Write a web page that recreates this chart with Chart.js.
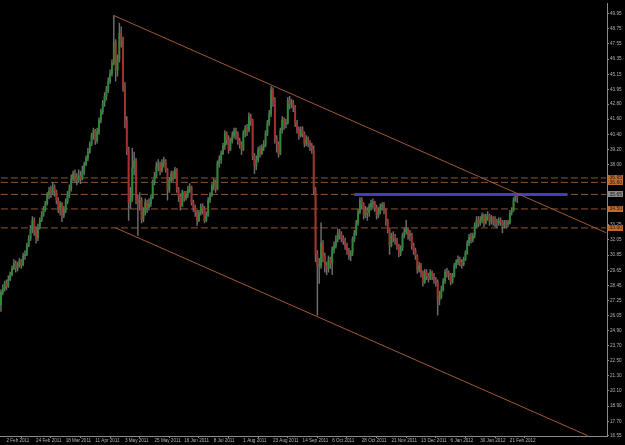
<!DOCTYPE html>
<html>
<head>
<meta charset="utf-8">
<script src="https://cdn.jsdelivr.net/npm/chart.js@4.4.1/dist/chart.umd.min.js"></script>
<style>
  html, body { margin: 0; padding: 0; background: #000; }
  #wrap { width: 625px; height: 445px; position: relative; }
</style>
</head>
<body>
<div id="wrap"><canvas id="chart"></canvas></div>
<script>
// daily bars, Jan 28 2011 -> Feb 27 2012 (open of each bar = previous close)
var firstOpen = 26.9;
var closes = [
  27.9,28.2,28.6,28.4,28.9,29.3,29.8,30.2,29.8,30.1,
  30.4,30.1,30.8,30.9,31.6,32.1,32.9,33.6,32.8,32.2,
  33.0,33.6,34.0,34.5,34.9,35.6,35.9,35.8,36.2,35.9,
  35.2,34.5,34.9,34.0,34.4,35.1,35.6,36.1,36.9,37.3,
  37.0,36.8,37.1,36.9,37.4,38.0,38.5,39.0,39.6,40.3,
  40.7,39.9,40.6,41.5,42.2,42.9,43.4,43.9,44.6,45.2,
  46.0,47.7,45.5,46.3,48.4,47.9,44.2,41.5,39.2,35.0,
  35.3,37.8,38.3,35.2,35.0,35.2,33.7,34.2,35.0,34.6,
  34.9,35.4,36.6,37.1,37.9,38.0,37.5,38.1,38.3,37.6,
  36.0,36.8,37.3,37.0,37.6,36.0,35.5,34.7,35.8,35.4,
  35.6,36.0,36.2,35.0,34.6,34.3,33.6,34.2,34.7,34.5,
  33.6,34.0,35.2,35.6,36.3,36.6,36.1,38.1,38.4,38.9,
  39.5,40.5,40.0,39.2,39.9,40.3,40.7,40.4,39.9,39.6,
  39.2,40.5,40.9,40.7,41.8,41.5,38.7,37.9,38.4,39.2,
  38.9,39.4,39.6,40.5,41.3,42.0,43.9,43.1,40.0,39.6,
  38.9,40.7,41.5,41.2,41.3,43.1,42.8,42.9,42.6,41.3,
  40.8,40.3,40.7,40.5,39.7,40.0,39.7,39.5,39.2,36.0,
  31.0,30.0,30.0,31.8,30.8,30.0,29.8,30.5,30.2,31.3,
  31.6,32.1,32.6,32.5,32.2,32.0,31.6,31.2,30.8,31.0,
  32.1,32.6,33.4,34.3,35.2,34.9,34.0,34.4,34.2,34.7,
  34.9,35.0,34.6,34.0,34.3,34.7,34.8,34.4,33.6,32.9,
  31.6,32.4,32.2,32.1,31.6,31.0,31.4,32.4,32.7,32.9,
  32.4,32.5,31.6,31.2,30.8,29.7,30.0,29.5,28.7,29.5,
  29.2,29.0,29.5,29.2,28.9,28.7,27.3,27.6,28.1,28.8,
  29.5,29.4,29.3,28.7,29.2,30.0,30.3,30.5,30.3,30.1,
  30.5,31.0,31.8,32.3,32.1,32.4,33.2,33.6,33.4,33.6,
  34.0,33.4,33.9,34.0,33.5,33.8,33.6,33.5,33.4,33.6,
  33.5,33.2,33.4,33.3,33.4,34.2,34.4,35.2,35.5,35.4
];
var highs = [
  28.1,28.5,28.8,28.9,29.2,29.5,30.0,30.5,30.4,30.3,
  30.6,30.5,31.0,31.2,31.8,32.4,33.2,33.9,33.8,33.1,
  33.3,33.8,34.3,34.7,35.1,35.8,36.2,36.3,36.6,36.4,
  36.0,35.4,35.1,35.0,34.7,35.3,35.9,36.4,37.2,37.5,
  37.6,37.3,37.6,37.5,37.9,38.2,38.7,39.3,39.8,40.5,
  40.9,40.8,40.9,41.7,42.4,43.1,43.7,44.2,44.9,45.5,
  46.3,49.8,47.9,46.7,49.2,48.9,48.1,44.5,41.8,39.4,
  36.2,39.3,39.0,38.5,35.6,35.8,35.4,34.6,35.3,35.2,
  35.3,35.6,36.8,37.4,38.2,38.4,38.2,38.4,38.6,38.4,
  37.7,37.0,37.5,37.5,37.8,37.7,36.2,35.7,36.0,35.9,
  35.9,36.3,36.5,36.3,35.2,34.8,34.4,34.4,34.9,34.9,
  34.7,34.3,35.4,35.8,36.5,36.9,36.8,38.3,38.7,39.1,
  39.7,40.7,40.6,40.3,40.1,40.6,40.9,40.9,40.6,40.1,
  39.8,40.7,41.1,41.2,42.1,42.0,41.6,38.9,38.7,39.4,
  39.5,39.6,39.9,40.7,41.5,42.3,44.2,44.1,43.3,40.3,
  39.8,40.9,41.8,41.7,41.6,43.3,43.4,43.2,43.1,42.7,
  41.5,41.0,41.0,41.0,40.6,40.3,40.2,39.9,39.7,39.5,
  36.2,31.2,30.6,33.4,32.0,31.0,30.3,30.8,30.7,31.5,
  31.9,32.4,32.9,32.9,32.7,32.4,32.2,31.8,31.4,31.2,
  32.3,32.8,33.6,34.5,35.4,35.4,35.0,34.7,34.6,34.9,
  35.2,35.3,35.1,34.8,34.6,34.9,35.0,35.0,34.5,33.7,
  33.0,32.6,32.7,32.5,32.2,31.7,31.6,32.6,33.0,33.6,
  33.0,32.8,32.6,31.8,31.4,30.9,30.3,30.2,29.6,29.7,
  29.7,29.4,29.7,29.6,29.4,29.1,28.9,28.0,28.4,29.0,
  29.7,29.8,29.6,29.4,29.4,30.2,30.5,30.8,30.7,30.5,
  30.7,31.2,32.0,32.5,32.6,32.6,33.4,33.9,33.9,33.9,
  34.2,34.1,34.1,34.3,34.1,34.0,33.9,33.9,33.7,33.8,
  33.8,33.6,33.6,33.6,33.6,34.4,34.6,35.4,35.6,35.6
];
var lows = [
  26.4,27.7,28.0,28.1,28.3,28.8,29.2,29.7,29.5,29.6,
  29.9,29.8,30.0,30.5,30.8,31.5,32.0,32.6,32.4,31.8,
  32.0,32.9,33.5,33.9,34.3,34.8,35.3,35.4,35.6,35.5,
  34.9,34.2,34.0,33.5,33.8,34.2,34.9,35.4,35.9,36.7,
  36.6,36.4,36.6,36.5,36.8,37.2,37.9,38.3,38.9,39.5,
  40.0,39.6,39.7,40.4,41.3,42.0,42.6,43.1,43.7,44.4,
  45.0,45.9,44.6,45.0,46.1,47.3,43.8,40.9,38.8,33.6,
  34.5,35.1,37.2,34.9,32.4,34.4,33.4,33.5,34.0,34.2,
  34.4,34.7,35.3,36.4,37.0,37.5,37.2,37.4,37.8,37.4,
  35.2,35.8,36.6,36.7,36.9,35.8,35.1,34.4,34.8,35.1,
  35.2,35.4,35.8,34.8,34.3,33.9,33.2,33.5,34.0,34.1,
  33.4,33.5,33.9,35.0,35.5,36.0,35.8,36.0,37.8,38.1,
  38.8,39.2,39.6,38.9,39.1,39.7,40.1,40.0,39.6,39.3,
  38.8,39.1,40.2,40.3,40.6,41.1,38.4,37.3,37.6,38.2,
  38.6,38.8,39.1,39.4,40.3,41.1,41.8,42.6,39.7,39.0,
  38.6,38.8,40.5,40.8,40.9,41.2,42.4,42.5,42.2,41.0,
  40.5,40.0,40.2,40.2,39.4,39.5,39.4,39.1,38.9,35.6,
  30.3,26.1,28.6,29.8,30.3,29.5,29.3,29.5,29.8,29.3,
  31.0,31.4,31.9,32.1,31.9,31.7,31.3,30.9,30.5,30.4,
  30.8,31.9,32.4,33.2,34.1,34.5,33.7,33.8,33.6,33.9,
  34.4,34.6,34.3,33.7,33.8,34.1,34.4,34.1,33.2,32.6,
  30.9,31.5,31.9,31.7,31.3,30.7,30.8,31.2,32.2,32.5,
  32.1,32.0,31.3,30.9,30.5,29.4,29.5,29.1,28.4,28.6,
  28.9,28.7,28.9,28.9,28.6,28.4,26.1,26.9,27.4,28.0,
  28.6,29.1,28.9,28.5,28.6,29.1,29.8,30.1,30.0,29.8,
  30.0,30.4,30.9,31.6,31.8,31.9,32.2,33.0,33.1,33.2,
  33.4,33.1,33.3,33.6,33.2,33.3,33.2,33.1,33.0,33.2,
  33.2,32.6,33.0,33.0,33.1,33.3,34.0,34.3,35.1,35.0
];

// empty slots after the last bar (chart shift)
var slotCount = 328;

var dateTickIndex = [3, 19, 35, 51, 67, 83, 99, 115, 131, 147, 163, 179, 195, 211, 227, 243, 259, 275];
var dateTickLabels = ["2 Feb 2011", "24 Feb 2011", "18 Mar 2011", "11 Apr 2011", "3 May 2011",
  "25 May 2011", "16 Jun 2011", "8 Jul 2011", "1 Aug 2011", "23 Aug 2011", "14 Sep 2011",
  "6 Oct 2011", "28 Oct 2011", "21 Nov 2011", "13 Dec 2011", "6 Jan 2012", "30 Jan 2012", "21 Feb 2012"];

var priceTicks = [49.95, 48.75, 47.55, 46.35, 45.15, 43.95, 42.80, 41.60, 40.40, 39.20, 38.00,
  36.80, 35.65, 34.45, 33.25, 32.05, 30.85, 29.65, 28.45, 27.25, 26.05, 24.90, 23.70, 22.50,
  21.30, 20.10, 18.90, 17.70, 16.55];
var priceMin = 16.54;
var priceMax = 50.73;

// horizontal levels (dashed) and their price boxes
var levelPrices = [36.95, 36.60, 35.65, 34.50, 33.00];
var levelLabels = ["36.95", "36.60", "35.65", "34.50", "33.00"];

// blue level segment
var blueStart = 191, blueEnd = 306, bluePrice = 35.65;

// channel lines: [bar index, price]
var upperChannel = [[61, 49.80], [327, 32.62]];
var lowerChannel = [[62, 33.00], [317, 16.57]];

var UP = "#2f8a35";
var DOWN = "#a8302c";
var WICK = "#6c6c6c";
var LEVEL = "#8f5532";
var CHANNEL = "#a05a33";

Chart.defaults.font.family = "'Liberation Sans', Arial, sans-serif";

var labels = [];
for (var i = 0; i < slotCount; i++) labels.push(i);

var wickData = [];
var bodyData = [];
var bodyColors = [];
for (var i = 0; i < slotCount; i++) {
  if (i < closes.length) {
    var o = i === 0 ? firstOpen : closes[i - 1];
    wickData.push([lows[i], highs[i]]);
    bodyData.push([o, closes[i]]);
    bodyColors.push(closes[i] >= o ? UP : DOWN);
  } else {
    wickData.push(null);
    bodyData.push(null);
    bodyColors.push(UP);
  }
}

function pts(pairs) {
  var out = [];
  for (var i = 0; i < pairs.length; i++) out.push({ x: pairs[i][0], y: pairs[i][1] });
  return out;
}

var datasets = [];

// dashed levels across the whole chart
for (var k = 0; k < levelPrices.length; k++) {
  datasets.push({
    type: "line",
    data: [{ x: 0, y: levelPrices[k] }, { x: slotCount - 1, y: levelPrices[k] }],
    borderColor: LEVEL,
    borderWidth: 1,
    borderDash: [7, 3],
    pointRadius: 0,
    fill: false,
    order: 5
  });
}

datasets.push({
  type: "bar",
  data: wickData,
  backgroundColor: WICK,
  barThickness: 0.8,
  grouped: false,
  order: 3
});
datasets.push({
  type: "bar",
  data: bodyData,
  backgroundColor: bodyColors,
  barThickness: 1.2,
  minBarLength: 1,
  grouped: false,
  order: 2
});

datasets.push({
  type: "line",
  data: [{ x: blueStart, y: bluePrice }, { x: blueEnd, y: bluePrice }],
  borderColor: "rgba(72,62,200,0.95)",
  borderWidth: 3,
  pointRadius: 0,
  fill: false,
  order: 1
});

datasets.push({
  type: "line",
  data: pts(upperChannel),
  borderColor: CHANNEL,
  borderWidth: 1,
  pointRadius: 0,
  fill: false,
  order: 0
});
datasets.push({
  type: "line",
  data: pts(lowerChannel),
  borderColor: CHANNEL,
  borderWidth: 1,
  pointRadius: 0,
  fill: false,
  order: 0
});

// price boxes on the right axis
var levelBoxes = {
  id: "levelBoxes",
  afterDraw: function(chart) {
    var ctx = chart.ctx;
    var ys = chart.scales.y;
    var left = ys.left + 1;
    ctx.save();
    ctx.font = "5px 'Liberation Sans', Arial, sans-serif";
    ctx.textBaseline = "middle";
    ctx.textAlign = "left";
    for (var i = 0; i < levelPrices.length; i++) {
      var py = ys.getPixelForValue(levelPrices[i]);
      ctx.fillStyle = levelPrices[i] === bluePrice ? "#8c8c8c" : "#c06a2c";
      ctx.fillRect(left, Math.round(py) - 3, 15, 6);
      ctx.fillStyle = "#1a1a1a";
      ctx.fillText(levelLabels[i], left + 1.5, py);
    }
    ctx.restore();
  }
};

new Chart(document.getElementById("chart"), {
  data: { labels: labels, datasets: datasets },
  options: {
    responsive: true,
    maintainAspectRatio: false,
    animation: false,
    layout: { padding: 0 },
    plugins: { legend: { display: false }, tooltip: { enabled: false } },
    scales: {
      x: {
        type: "category",
        offset: true,
        afterBuildTicks: function(scale) {
          var t = [];
          for (var i = 0; i < dateTickIndex.length; i++) t.push({ value: dateTickIndex[i] });
          scale.ticks = t;
        },
        afterFit: function(scale) { scale.height = 9; },
        ticks: {
          autoSkip: false,
          maxRotation: 0,
          minRotation: 0,
          align: "start",
          padding: 0,
          color: "#b4b4b4",
          font: { size: 4.6 },
          callback: function(value, index) { return dateTickLabels[index]; }
        },
        grid: { drawOnChartArea: false, drawTicks: true, tickLength: 2, color: "#8a8a8a" },
        border: { display: true, color: "#8a8a8a" }
      },
      y: {
        type: "linear",
        position: "right",
        min: priceMin,
        max: priceMax,
        afterBuildTicks: function(scale) {
          var t = [];
          for (var i = 0; i < priceTicks.length; i++) t.push({ value: priceTicks[i] });
          scale.ticks = t;
        },
        afterFit: function(scale) { scale.width = 18; },
        ticks: {
          autoSkip: false,
          padding: 1,
          color: "#b4b4b4",
          font: { size: 4.6 },
          callback: function(value) { return value.toFixed(2); }
        },
        grid: { drawOnChartArea: false, drawTicks: true, tickLength: 2, color: "#8a8a8a" },
        border: { display: true, color: "#8a8a8a" }
      }
    }
  },
  plugins: [levelBoxes]
});
</script>
</body>
</html>
